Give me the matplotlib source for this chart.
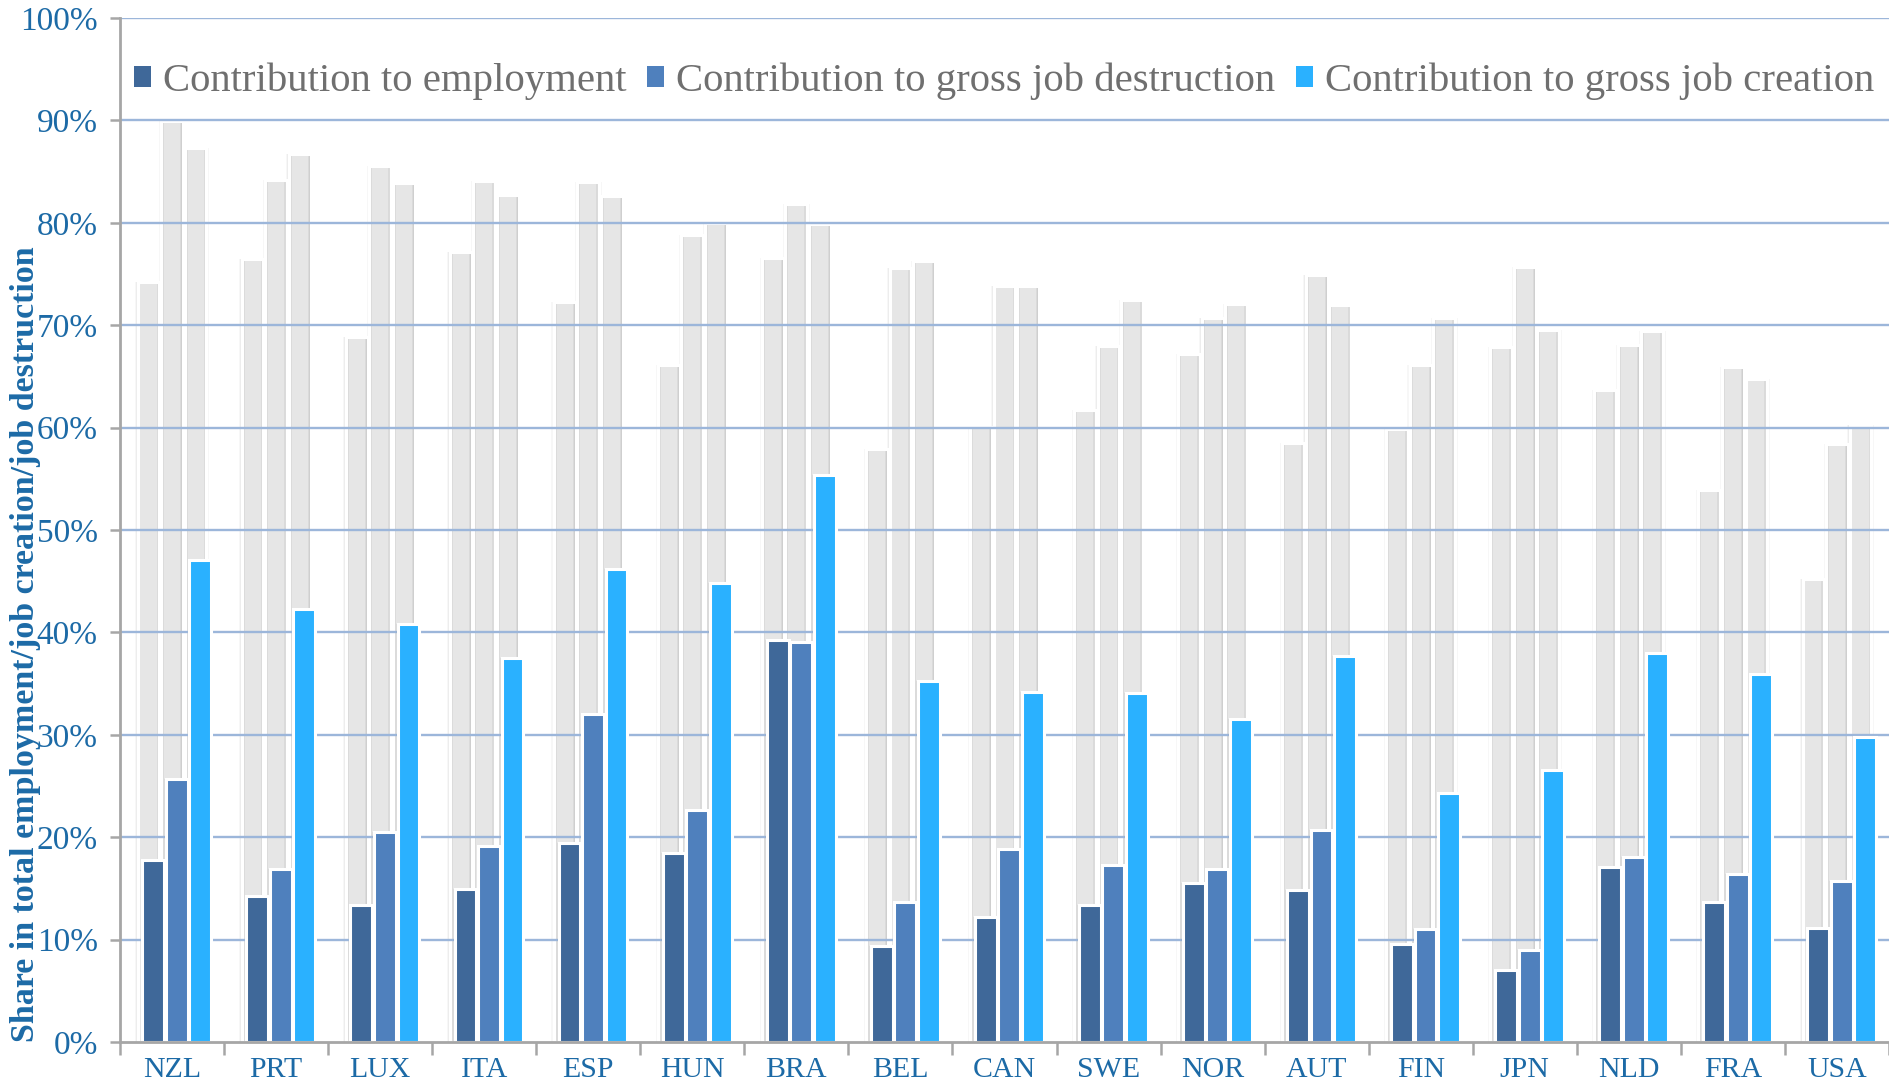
import numpy as np
import matplotlib.pyplot as plt
from matplotlib.ticker import FuncFormatter, FixedLocator
from matplotlib.patches import Patch

countries = ['NZL', 'PRT', 'LUX', 'ITA', 'ESP', 'HUN', 'BRA', 'BEL', 'CAN',
             'SWE', 'NOR', 'AUT', 'FIN', 'JPN', 'NLD', 'FRA', 'USA']

# shares of young firms (%)
employment = [17.8, 14.3, 13.4, 14.9, 19.4, 18.5, 39.3, 9.4, 12.2,
              13.4, 15.5, 14.8, 9.6, 7.0, 17.1, 13.7, 11.1]
destruction = [25.7, 16.9, 20.5, 19.1, 32.0, 22.7, 39.1, 13.7, 18.8,
               17.3, 16.9, 20.7, 11.0, 9.0, 18.1, 16.4, 15.7]
creation = [47.1, 42.3, 40.8, 37.5, 46.2, 44.8, 55.4, 35.3, 34.2,
            34.1, 31.5, 37.7, 24.3, 26.6, 38.0, 35.9, 29.8]

# grey background bars (%)
employment_bg = [74.2, 76.5, 68.8, 77.1, 72.3, 66.1, 76.6, 57.9, 60.1,
                 61.7, 67.2, 58.5, 59.9, 67.9, 63.7, 53.9, 45.2]
destruction_bg = [89.9, 84.2, 85.5, 84.1, 84.0, 78.8, 81.8, 75.6, 73.8,
                  68.0, 70.7, 74.9, 66.1, 75.7, 68.1, 65.9, 58.4]
creation_bg = [87.3, 86.7, 83.9, 82.7, 82.6, 80.0, 79.9, 76.3, 73.8,
               72.5, 72.1, 72.0, 70.7, 69.5, 69.4, 64.7, 60.3]

labels = ['Contribution to employment',
          'Contribution to gross job destruction',
          'Contribution to gross job creation']
colors = ['#3f6899', '#4f80bd', '#2ab1ff']

SERIF = 'Liberation Serif'
BLUE_TXT = '#1c6aa6'
GRID = '#9cb6da'
AXIS = '#a6a6a6'

fig = plt.figure(figsize=(18.89, 10.87), dpi=100)
ax = fig.add_axes([120 / 1889, 45 / 1087, 1 - 120 / 1889, 1024 / 1087])

x = np.arange(len(countries))
w = 0.21
step = 0.226
shift = 0.046

# grey bars with a soft halo and darker inner edges
for k, vals in enumerate([employment_bg, destruction_bg, creation_bg]):
    pos = x + (k - 1) * step
    ax.bar(pos, vals, width=w + 0.045, color='#7f7f7f', alpha=0.06, zorder=1, linewidth=0)
    ax.bar(pos, vals, width=w + 0.025, color='#7f7f7f', alpha=0.08, zorder=1, linewidth=0)
    ax.bar(pos, vals, width=w, color='#e6e6e6', zorder=1.2, linewidth=0)
    for side in (-1, 1):
        ax.bar(pos + side * (w / 2 - 0.014), vals, width=0.028, color='#c4c4c4',
               alpha=0.35, zorder=1.3, linewidth=0)
        ax.bar(pos + side * (w / 2 - 0.007), vals, width=0.014, color='#b8b8b8',
               alpha=0.35, zorder=1.3, linewidth=0)
    ax.bar(pos, vals, width=w, fill=False, edgecolor='white', linewidth=2.2, zorder=1.4)

# gridlines sit between the grey and the coloured bars
for yv in range(10, 101, 10):
    ax.axhline(yv, color=GRID, linewidth=1.7, zorder=2)

# coloured bars
for k, (vals, c) in enumerate(zip([employment, destruction, creation], colors)):
    pos = x + (k - 1) * step + shift
    ax.bar(pos, vals, width=w + 0.03, color='#7f7f7f', alpha=0.10, zorder=2.5, linewidth=0)
    ax.bar(pos, vals, width=w, color=c, edgecolor='white', linewidth=2.2, zorder=3)

ax.set_xlim(-0.5, 16.4)
ax.set_ylim(0, 100)

ax.yaxis.set_major_locator(FixedLocator(range(0, 101, 10)))
ax.yaxis.set_major_formatter(FuncFormatter(lambda v, p: f'{v:.0f}%'))
ax.tick_params(axis='y', length=7, width=1.8, color=AXIS, pad=9,
               labelsize=24, labelcolor=BLUE_TXT)

ax.set_xticks(x)
ax.set_xticklabels(countries)
ax.set_xticks(np.arange(-0.5, 17, 1), minor=True)
ax.tick_params(axis='x', which='major', length=0, pad=11, labelsize=21.5, labelcolor=BLUE_TXT)
ax.tick_params(axis='x', which='minor', length=9, width=1.8, color=AXIS)
for t in ax.get_xticklabels() + ax.get_yticklabels():
    t.set_family(SERIF)

for s in ['top', 'right']:
    ax.spines[s].set_visible(False)
for s in ['left', 'bottom']:
    ax.spines[s].set_color(AXIS)
    ax.spines[s].set_linewidth(2)
    ax.spines[s].set_zorder(4)

fig.text(26 / 1889, 45 / 1087, 'Share in total employment/job creation/job destruction',
         rotation=90, ha='center', va='bottom', family=SERIF, weight='bold',
         fontsize=24.5, color=BLUE_TXT)

handles = [Patch(facecolor=c, edgecolor='none') for c in colors]
leg = fig.legend(handles, labels, ncol=3, loc='center left',
                 bbox_to_anchor=(134 / 1889, 1 - 81 / 1087), frameon=False,
                 prop={'family': SERIF, 'size': 29.3}, handlelength=0.42, handleheight=0.42,
                 handletextpad=0.3, columnspacing=0.5, borderaxespad=0, borderpad=0)
for t in leg.get_texts():
    t.set_color('#6f6f6f')

fig.savefig('out.png', dpi=100)
